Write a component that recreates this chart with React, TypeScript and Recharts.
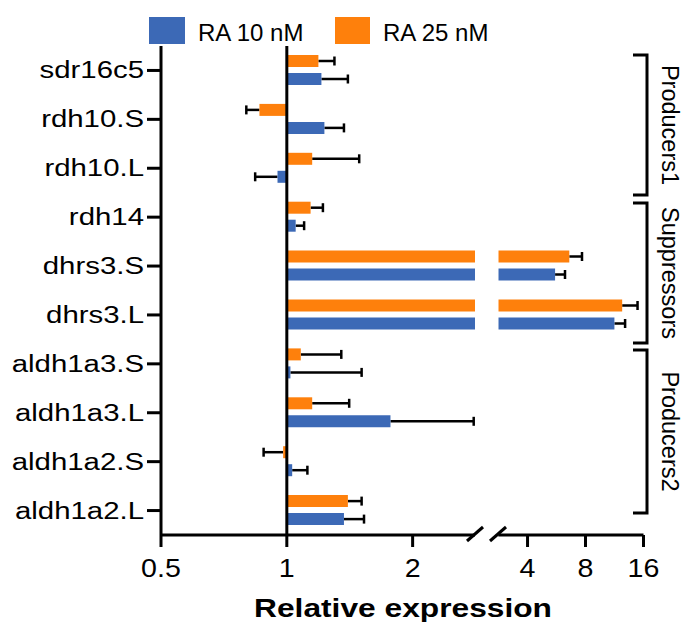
import React from 'react';
import { BarChart, Bar, XAxis, YAxis, ReferenceLine } from 'recharts';

// genes, top to bottom
const genes = [
  'sdr16c5',
  'rdh10.S',
  'rdh10.L',
  'rdh14',
  'dhrs3.S',
  'dhrs3.L',
  'aldh1a3.S',
  'aldh1a3.L',
  'aldh1a2.S',
  'aldh1a2.L',
];
// relative expression (fold over control) and error
const ra10 = [1.21, 1.23, 0.95, 1.05, 5.56, 11.3, 1.02, 1.77, 1.03, 1.37];
const ra10Err = [0.19, 0.14, 0.11, 0.05, 0.7, 1.54, 0.49, 1.03, 0.09, 0.16];
const ra25 = [1.19, 0.86, 1.15, 1.14, 6.59, 12.4, 1.08, 1.15, 0.98, 1.4];
const ra25Err = [0.11, 0.06, 0.34, 0.08, 1.08, 2.5, 0.27, 0.26, 0.1, 0.11];

const leftTicks = [0.5, 1, 2];
const rightTicks = [4, 8, 16];
const AXIS_MIN = 0.5;
const BREAK = 2.82; // where the x axis is broken
const AXIS_MAX = 16;

const groups = [
  { name: 'Producers1', top: 55, bottom: 195 },
  { name: 'Suppressors', top: 203, bottom: 343 },
  { name: 'Producers2', top: 350, bottom: 513 },
];

const BLUE = '#3c69b6';
const ORANGE = '#fe800c';
const FONT = '"Liberation Sans", Arial, Helvetica, sans-serif';

const rows = genes.map((gene, i) => ({
  gene,
  ra10: ra10[i],
  ra10Err: ra10Err[i],
  ra25: ra25[i],
  ra25Err: ra25Err[i],
}));

// bars are drawn from 1 (no change); broken axis = two charts side by side
const leftBar = (k: string) => (d: any) => {
  const v = Math.min(d[k], BREAK);
  return [Math.min(1, v), Math.max(1, v)];
};
const rightBar = (k: string) => (d: any) => (d[k] > BREAK ? [BREAK, d[k]] : null);

// one-sided whiskers, going away from 1
const whisker = (v: number, e: number) => [v, v < 1 ? v - e : v + e];
const leftErr = (k: string) => (d: any) => (d[k] <= BREAK ? whisker(d[k], d[k + 'Err']) : null);
const rightErr = (k: string) => (d: any) => (d[k] > BREAK ? whisker(d[k], d[k + 'Err']) : null);

const whiskerShape = (k: string) => (props: any) => {
  const { x, y, width, height, payload } = props;
  if (![x, y, width, height].every((n) => Number.isFinite(n))) return <g />;
  const cy = y + height / 2;
  const a = Math.min(x, x + width);
  const b = Math.max(x, x + width);
  const cap = payload && payload[k] < 1 ? a : b;
  return (
    <g>
      <line x1={a} y1={cy} x2={b} y2={cy} stroke="#000" strokeWidth={2.5} />
      <line x1={cap} y1={cy - 4.5} x2={cap} y2={cy + 4.5} stroke="#000" strokeWidth={2.5} />
    </g>
  );
};

const CatTick = ({ x, y, payload }: any) => (
  <g transform={`translate(${x},${y})`}>
    <text transform="scale(1.25,1)" textAnchor="end" dy={8} fontSize={23.5} fontFamily={FONT} fill="#000">
      {payload.value}
    </text>
  </g>
);

const NumTick = ({ x, y, payload }: any) => (
  <g transform={`translate(${x},${y})`}>
    <text transform="scale(1.1,1)" textAnchor="middle" dy={28} fontSize={26} fontFamily={FONT} fill="#000">
      {payload.value}
    </text>
  </g>
);

const axisStroke = { stroke: '#000', strokeWidth: 3 };
const W = 683;
const H = 631;

const layer: React.CSSProperties = { position: 'absolute', left: 0, top: 0 };

export default function App() {
  return (
    <div style={{ position: 'absolute', left: 0, top: 0, width: W, height: H, background: '#fff', fontFamily: FONT }}>
      {/* left segment: 0.5 .. break */}
      <div style={layer}>
        <BarChart
          width={W}
          height={H}
          data={rows}
          layout="vertical"
          barSize={12}
          barGap={6}
          margin={{ top: 46, right: W - 475, bottom: 0, left: 0 }}
        >
          <XAxis
            type="number"
            scale="log"
            domain={[AXIS_MIN, BREAK]}
            allowDataOverflow
            ticks={leftTicks}
            interval={0}
            height={96}
            axisLine={axisStroke}
            tickLine={axisStroke}
            tickSize={12}
            tick={<NumTick />}
          />
          <YAxis
            yAxisId="main"
            type="category"
            dataKey="gene"
            width={161}
            interval={0}
            axisLine={axisStroke}
            tickLine={axisStroke}
            tickSize={14}
            tickMargin={3}
            tick={<CatTick />}
          />
          <YAxis yAxisId="err" type="category" dataKey="gene" width={0} hide />
          <Bar yAxisId="err" dataKey={leftErr('ra25')} shape={whiskerShape('ra25')} legendType="none" isAnimationActive={false} />
          <Bar yAxisId="err" dataKey={leftErr('ra10')} shape={whiskerShape('ra10')} legendType="none" isAnimationActive={false} />
          <Bar yAxisId="main" dataKey={leftBar('ra25')} name="RA 25 nM" fill={ORANGE} isAnimationActive={false} />
          <Bar yAxisId="main" dataKey={leftBar('ra10')} name="RA 10 nM" fill={BLUE} isAnimationActive={false} />
          <ReferenceLine x={1} yAxisId="main" stroke="#000" strokeWidth={3} />
        </BarChart>
      </div>

      {/* right segment: break .. 16 */}
      <div style={layer}>
        <BarChart
          width={W}
          height={H}
          data={rows}
          layout="vertical"
          barSize={12}
          barGap={6}
          margin={{ top: 46, right: W - 643.5, bottom: 0, left: 498.3 }}
        >
          <XAxis
            type="number"
            scale="log"
            domain={[BREAK, AXIS_MAX]}
            allowDataOverflow
            ticks={rightTicks}
            interval={0}
            height={96}
            axisLine={axisStroke}
            tickLine={axisStroke}
            tickSize={12}
            tick={<NumTick />}
          />
          <YAxis yAxisId="main" type="category" dataKey="gene" width={0} hide />
          <YAxis yAxisId="err" type="category" dataKey="gene" width={0} hide />
          <Bar yAxisId="err" dataKey={rightErr('ra25')} shape={whiskerShape('ra25')} legendType="none" isAnimationActive={false} />
          <Bar yAxisId="err" dataKey={rightErr('ra10')} shape={whiskerShape('ra10')} legendType="none" isAnimationActive={false} />
          <Bar yAxisId="main" dataKey={rightBar('ra25')} name="RA 25 nM" fill={ORANGE} isAnimationActive={false} />
          <Bar yAxisId="main" dataKey={rightBar('ra10')} name="RA 10 nM" fill={BLUE} isAnimationActive={false} />
        </BarChart>
      </div>

      {/* legend, group brackets, axis break and title */}
      <svg width={W} height={H} style={{ ...layer, pointerEvents: 'none' }}>
        <rect x={149} y={17} width={36} height={27} fill={BLUE} />
        <text x={198} y={41} fontSize={24} fontFamily={FONT} fill="#000">RA 10 nM</text>
        <rect x={335} y={17} width={35} height={27} fill={ORANGE} />
        <text x={383} y={41} fontSize={24} fontFamily={FONT} fill="#000">RA 25 nM</text>

        {groups.map((g) => (
          <g key={g.name}>
            <path
              d={`M633,${g.top} H647 V${g.bottom} H633`}
              fill="none"
              stroke="#000"
              strokeWidth={3}
            />
            <text
              transform={`translate(670,${(g.top + g.bottom) / 2}) rotate(90)`}
              textAnchor="middle"
              dominantBaseline="central"
              fontSize={23.5}
              fontFamily={FONT}
              fill="#000"
            >
              {g.name}
            </text>
          </g>
        ))}

        <line x1={467} y1={541} x2={483} y2={527} stroke="#000" strokeWidth={3} />
        <line x1={490} y1={541} x2={506} y2={527} stroke="#000" strokeWidth={3} />

        <text
          transform="translate(403,617) scale(1.22,1)"
          textAnchor="middle"
          fontSize={26}
          fontWeight="bold"
          fontFamily={FONT}
          fill="#000"
        >
          Relative expression
        </text>
      </svg>
    </div>
  );
}
